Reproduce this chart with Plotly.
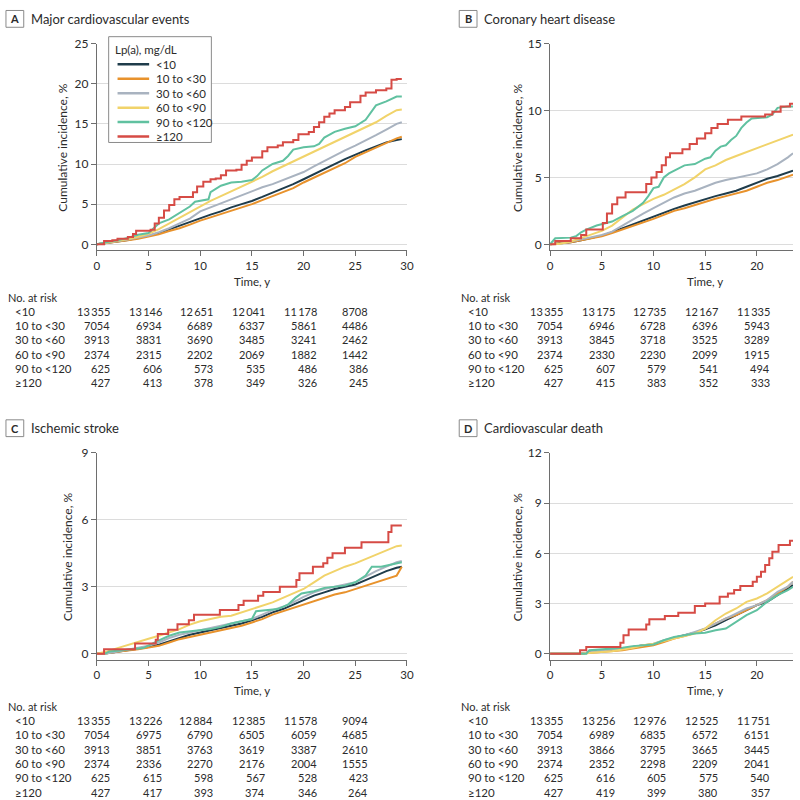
import plotly.graph_objects as go

# ---------------- data ----------------
GROUPS = ["<10", "10 to <30", "30 to <60", "60 to <90", "90 to <120", "≥120"]
COLORS = ["#1f3c4b", "#e8922c", "#a9b3c0", "#f1d36a", "#60c1a0", "#d64b45"]
SHAPES = ["linear", "linear", "linear", "linear", "linear", "hv"]

PANEL_LETTERS = ["A", "B", "C", "D"]
PANEL_TITLES = ["Major cardiovascular events", "Coronary heart disease",
                "Ischemic stroke", "Cardiovascular death"]
Y_TICKS_A = [0, 5, 10, 15, 20, 25]
Y_TICKS_B = [0, 5, 10, 15]
Y_TICKS_C = [0, 3, 6, 9]
Y_TICKS_D = [0, 3, 6, 9, 12]
X_TICKS = [0, 5, 10, 15, 20, 25, 30]
RISK_T_LEFT = [0, 5, 10, 15, 20, 25]
RISK_T_RIGHT = [0, 5, 10, 15, 20]

# Panel A: Major cardiovascular events
A_T = [0, 1, 2, 3, 4, 5, 6, 7, 8, 9, 10, 11, 12, 13, 14, 15, 16, 17, 18, 19, 20,
       21, 22, 23, 24, 25, 26, 27, 28, 29, 29.5]
A_LT10 = [0, 0.15, 0.35, 0.55, 0.8, 1.05, 1.4, 1.85, 2.3, 2.8, 3.3, 3.7, 4.1, 4.6, 5.0, 5.4,
          5.9, 6.4, 6.9, 7.5, 8.1, 8.7, 9.4, 10.0, 10.6, 11.2, 11.7, 12.2, 12.7, 13.0, 13.1]
A_10_30 = [0, 0.15, 0.3, 0.5, 0.7, 0.95, 1.25, 1.65, 2.0, 2.45, 2.95, 3.35, 3.75, 4.2, 4.6, 5.0,
           5.5, 6.0, 6.5, 7.0, 7.7, 8.3, 9.0, 9.5, 10.1, 10.9, 11.5, 12.1, 12.7, 13.2, 13.4]
A_30_60 = [0, 0.2, 0.35, 0.6, 0.85, 1.1, 1.5, 2.0, 2.6, 3.2, 4.1, 4.6, 5.1, 5.6, 6.1, 6.6,
           7.1, 7.5, 8.0, 8.5, 9.0, 9.7, 10.4, 11.1, 11.7, 12.3, 12.9, 13.6, 14.3, 15.0, 15.2]
A_60_90 = [0, 0.2, 0.4, 0.65, 0.95, 1.3, 1.9, 2.6, 3.3, 4.0, 4.8, 5.4, 6.0, 6.6, 7.2, 7.8,
           8.4, 9.1, 9.7, 10.3, 10.9, 11.5, 12.2, 12.8, 13.4, 14.0, 14.6, 15.2, 16.0, 16.7, 16.8]
A_90_120_T = [0, 1, 2, 3, 4, 5, 5.5, 6, 7, 8, 9, 9.5, 10, 10.8, 11, 12, 13, 14, 15, 15.5, 16,
              17, 18, 18.5, 19, 20, 21, 21.5, 22, 23, 24, 25, 26, 27, 28, 29, 29.5]
A_90_120 = [0, 0.3, 0.5, 0.8, 1.2, 1.4, 2.0, 2.6, 3.1, 3.9, 4.7, 5.3, 5.4, 5.6, 6.5, 7.3, 7.7,
            7.8, 8.0, 8.5, 9.2, 10.0, 10.4, 11.0, 11.8, 12.1, 12.2, 12.5, 13.3, 14.0, 14.4,
            14.7, 15.5, 17.3, 17.8, 18.4, 18.4]
A_GE120_T = [0, 0.7, 1.5, 2, 3, 3.5, 3.8, 5.2, 5.6, 6, 6.5, 7, 7.5, 8, 8.9, 9.3, 9.7, 10.3, 11,
             11.5, 12, 12.5, 13.5, 14, 14.5, 15, 16, 16.5, 17.5, 18, 19, 19.5, 20.5, 21, 21.5,
             22, 22.5, 23, 24, 24.5, 25.5, 26, 27, 28, 28.5, 29, 29.5]
A_GE120 = [0, 0.4, 0.5, 0.7, 0.9, 1.3, 1.7, 1.8, 2.6, 3.3, 4.2, 4.9, 5.6, 5.9, 5.9, 6.5, 7.2,
           7.8, 8.1, 8.2, 8.6, 9.2, 9.3, 9.9, 10.4, 10.8, 11.6, 12.1, 12.3, 12.7, 13.0, 13.7,
           14.0, 14.6, 15.2, 15.9, 16.3, 16.7, 17.1, 17.7, 18.5, 18.9, 19.2, 19.4, 20.5, 20.6, 20.6]

# Panel B: Coronary heart disease
B_T = [0, 1, 2, 3, 4, 5, 6, 7, 8, 9, 10, 11, 12, 13, 14, 15, 16, 17, 18, 19, 20, 21, 22, 23, 23.5]
B_LT10 = [0, 0.05, 0.15, 0.3, 0.45, 0.65, 0.9, 1.2, 1.5, 1.8, 2.05, 2.35, 2.65, 2.9, 3.15,
          3.4, 3.6, 3.8, 4.0, 4.3, 4.6, 4.9, 5.1, 5.4, 5.5]
B_10_30 = [0, 0.05, 0.15, 0.3, 0.45, 0.6, 0.85, 1.1, 1.35, 1.6, 1.9, 2.2, 2.5, 2.7, 2.95,
           3.2, 3.4, 3.6, 3.8, 4.0, 4.3, 4.6, 4.8, 5.1, 5.2]
B_30_60 = [0, 0.05, 0.2, 0.35, 0.5, 0.7, 0.95, 1.4, 1.9, 2.3, 2.7, 3.1, 3.5, 3.8, 4.0, 4.3,
           4.6, 4.8, 4.95, 5.1, 5.3, 5.6, 6.0, 6.5, 6.8]
B_60_90 = [0, 0.05, 0.2, 0.45, 0.7, 1.0, 1.4, 2.0, 2.6, 3.0, 3.4, 3.7, 4.1, 4.5, 5.0, 5.6,
           5.9, 6.3, 6.6, 6.9, 7.2, 7.5, 7.8, 8.1, 8.2]
B_90_120_T = [0, 0.5, 2, 2.5, 3, 3.5, 4.5, 5, 5.5, 6, 7, 8, 8.5, 9, 9.5, 10, 10.5, 11, 11.5, 12,
              13, 14, 14.5, 15, 15.5, 16, 16.5, 17, 17.5, 18, 18.5, 19, 19.5, 21, 21.5, 22, 23, 23.5]
B_90_120 = [0, 0.45, 0.5, 0.6, 0.9, 1.1, 1.4, 1.5, 1.6, 1.7, 2.1, 2.5, 2.8, 3.1, 3.6, 4.2,
            4.3, 5.0, 5.3, 5.5, 5.9, 6.0, 6.2, 6.4, 6.5, 7.0, 7.3, 7.4, 7.8, 8.1, 8.7, 9.1,
            9.4, 9.5, 9.7, 10.2, 10.3, 10.3]
B_GE120_T = [0, 0.5, 2, 3, 3.5, 5.1, 5.5, 6, 6.5, 7.3, 9.3, 9.8, 10.3, 10.8, 11.2, 11.6, 12.8,
             13.5, 14.2, 15, 15.6, 16.2, 17.2, 18.5, 20.8, 21.5, 22.3, 23.2, 23.5]
B_GE120 = [0, 0.25, 0.45, 0.7, 1.1, 1.6, 2.3, 3.0, 3.5, 3.9, 4.5, 5.0, 5.4, 5.9, 6.5, 6.8,
           7.1, 7.5, 7.9, 8.3, 8.7, 9.0, 9.3, 9.55, 9.7, 9.9, 10.3, 10.5, 10.5]

# Panel C: Ischemic stroke
C_T = A_T
C_LT10 = [0, 0.02, 0.08, 0.15, 0.22, 0.3, 0.4, 0.55, 0.7, 0.85, 0.95, 1.05, 1.15, 1.25, 1.35,
          1.5, 1.65, 1.85, 2.0, 2.2, 2.4, 2.6, 2.75, 2.9, 3.0, 3.1, 3.3, 3.5, 3.7, 3.85, 3.9]
C_10_30 = [0, 0.02, 0.08, 0.13, 0.2, 0.27, 0.35, 0.5, 0.65, 0.75, 0.85, 0.95, 1.05, 1.15,
           1.25, 1.4, 1.55, 1.75, 1.9, 2.05, 2.2, 2.35, 2.5, 2.65, 2.75, 2.9, 3.05, 3.2, 3.35,
           3.5, 3.9]
C_30_60 = [0, 0.02, 0.1, 0.2, 0.27, 0.35, 0.5, 0.7, 0.85, 0.95, 1.05, 1.15, 1.25, 1.35, 1.45,
           1.55, 1.75, 1.95, 2.1, 2.3, 2.55, 2.75, 2.9, 3.0, 3.1, 3.2, 3.45, 3.7, 3.9, 4.1, 4.15]
C_60_90 = [0, 0.1, 0.25, 0.4, 0.55, 0.67, 0.8, 0.95, 1.1, 1.3, 1.45, 1.55, 1.65, 1.7, 1.85,
           2.0, 2.15, 2.3, 2.5, 2.7, 2.9, 3.2, 3.5, 3.7, 3.9, 4.05, 4.25, 4.45, 4.65, 4.82, 4.85]
C_90_120_T = [0.8, 1.2, 2.5, 3.5, 4.5, 5.8, 6.5, 7, 8, 9, 10, 11, 12, 13, 14, 15, 15.4, 16.5,
              17.5, 18.5, 19.2, 19.8, 21, 22, 23, 24, 25, 26, 26.6, 27.5, 28.5, 29.5]
C_90_120 = [0, 0.1, 0.15, 0.2, 0.25, 0.55, 0.7, 0.8, 0.95, 1.0, 1.05, 1.1, 1.2, 1.35, 1.45,
            1.55, 1.9, 1.95, 2.0, 2.2, 2.5, 2.7, 2.8, 2.95, 3.0, 3.05, 3.2, 3.5, 3.9, 3.9,
            4.0, 4.1]
C_GE120_T = [0, 0.7, 3.7, 5.7, 5.9, 6.9, 7.8, 8.9, 9.4, 11.9, 13.7, 14.2, 15.6, 16.1, 17.7,
             19.3, 19.6, 20.9, 21.9, 22.3, 22.8, 24, 25.6, 28.2, 28.5, 29.5]
C_GE120 = [0, 0.2, 0.45, 0.62, 0.88, 1.07, 1.32, 1.5, 1.74, 1.96, 2.18, 2.37, 2.6, 2.77, 3.0,
           3.3, 3.6, 3.9, 4.05, 4.3, 4.5, 4.75, 5.0, 5.45, 5.75, 5.75]

# Panel D: Cardiovascular death
D_T = [0, 3, 4, 5, 6, 7, 8, 9, 10, 11, 12, 13, 14, 15, 16, 17, 18, 19, 20, 21, 22, 23, 23.5]
D_LT10 = [0, 0, 0.1, 0.2, 0.25, 0.3, 0.4, 0.5, 0.55, 0.75, 0.95, 1.1, 1.25, 1.45, 1.7, 2.0,
          2.3, 2.6, 2.9, 3.1, 3.5, 3.9, 4.1]
D_10_30 = [0, 0, 0.05, 0.1, 0.15, 0.2, 0.3, 0.4, 0.5, 0.7, 0.9, 1.05, 1.25, 1.5, 1.8, 2.1,
           2.3, 2.6, 2.9, 3.2, 3.6, 4.0, 4.3]
D_30_60 = [0, 0, 0.1, 0.2, 0.25, 0.3, 0.4, 0.5, 0.6, 0.8, 0.95, 1.1, 1.3, 1.5, 1.8, 2.1, 2.4,
           2.7, 2.9, 3.2, 3.7, 4.0, 4.3]
D_60_90 = [0, 0, 0.05, 0.1, 0.15, 0.25, 0.35, 0.5, 0.6, 0.75, 0.9, 1.05, 1.2, 1.5, 2.0, 2.4,
           2.7, 3.1, 3.3, 3.6, 4.0, 4.4, 4.6]
D_90_120_T = [0, 3.5, 3.8, 5, 6, 7, 8, 9, 10, 11, 12, 13, 14, 15, 16, 17, 18, 19, 20, 21, 22,
              23, 23.5]
D_90_120 = [0, 0, 0.2, 0.25, 0.3, 0.35, 0.45, 0.5, 0.55, 0.8, 1.0, 1.1, 1.2, 1.25, 1.4, 1.5,
            1.9, 2.3, 2.6, 3.1, 3.5, 3.8, 4.0]
D_GE120_T = [0, 2.9, 3.5, 6.8, 7.1, 7.6, 9.3, 9.6, 11.1, 12.4, 14.0, 15.0, 16.4, 17.2, 17.8,
             18.4, 19.6, 20.0, 20.4, 20.8, 21.2, 21.5, 22.1, 23.2, 23.5]
D_GE120 = [0, 0.2, 0.4, 0.65, 1.1, 1.45, 1.75, 2.05, 2.25, 2.45, 2.85, 3.0, 3.4, 3.6, 3.8,
           4.05, 4.3, 4.6, 4.9, 5.3, 5.7, 6.1, 6.5, 6.75, 6.75]

# Numbers at risk (rows follow GROUPS)
A_RISK = [[13355, 13146, 12651, 12041, 11178, 8708],
          [7054, 6934, 6689, 6337, 5861, 4486],
          [3913, 3831, 3690, 3485, 3241, 2462],
          [2374, 2315, 2202, 2069, 1882, 1442],
          [625, 606, 573, 535, 486, 386],
          [427, 413, 378, 349, 326, 245]]
B_RISK = [[13355, 13175, 12735, 12167, 11335],
          [7054, 6946, 6728, 6396, 5943],
          [3913, 3845, 3718, 3525, 3289],
          [2374, 2330, 2230, 2099, 1915],
          [625, 607, 579, 541, 494],
          [427, 415, 383, 352, 333]]
C_RISK = [[13355, 13226, 12884, 12385, 11578, 9094],
          [7054, 6975, 6790, 6505, 6059, 4685],
          [3913, 3851, 3763, 3619, 3387, 2610],
          [2374, 2336, 2270, 2176, 2004, 1555],
          [625, 615, 598, 567, 528, 423],
          [427, 417, 393, 374, 346, 264]]
D_RISK = [[13355, 13256, 12976, 12525, 11751],
          [7054, 6989, 6835, 6572, 6151],
          [3913, 3866, 3795, 3665, 3445],
          [2374, 2352, 2298, 2209, 2041],
          [625, 616, 605, 575, 540],
          [427, 419, 399, 380, 357]]

# ---------------- layout helpers ----------------
W, H = 800, 800
FONT = "Lato, 'Open Sans', sans-serif"
TXT = "#2b2b2b"
AX = "#6e6e6e"
PXU = 10.47          # pixels per year
PLOT_H_TOP = 203     # px from top tick to zero
PLOT_PAD = 6         # px from zero to axis line


def px(x):
    return x / W


def py(y):
    return 1 - y / H


panels = [
    dict(series=[(A_T, A_LT10), (A_T, A_10_30), (A_T, A_30_60), (A_T, A_60_90),
                 (A_90_120_T, A_90_120), (A_GE120_T, A_GE120)],
         risk=A_RISK, rt=RISK_T_LEFT, yt=Y_TICKS_A, x0=95, x1=95 + 30 * PXU, top=36,
         ytitle_x=60, xmax=30),
    dict(series=[(B_T, B_LT10), (B_T, B_10_30), (B_T, B_30_60), (B_T, B_60_90),
                 (B_90_120_T, B_90_120), (B_GE120_T, B_GE120)],
         risk=B_RISK, rt=RISK_T_RIGHT, yt=Y_TICKS_B, x0=554, x1=800, top=36,
         ytitle_x=521, xmax=(800 - 554) / PXU),
    dict(series=[(C_T, C_LT10), (C_T, C_10_30), (C_T, C_30_60), (C_T, C_60_90),
                 (C_90_120_T, C_90_120), (C_GE120_T, C_GE120)],
         risk=C_RISK, rt=RISK_T_LEFT, yt=Y_TICKS_C, x0=95, x1=95 + 30 * PXU, top=450,
         ytitle_x=66, xmax=30),
    dict(series=[(D_T, D_LT10), (D_T, D_10_30), (D_T, D_30_60), (D_T, D_60_90),
                 (D_90_120_T, D_90_120), (D_GE120_T, D_GE120)],
         risk=D_RISK, rt=RISK_T_RIGHT, yt=Y_TICKS_D, x0=554, x1=800, top=450,
         ytitle_x=521, xmax=(800 - 554) / PXU),
]


def fmt(n):
    s = f"{n:d}"
    if n >= 10000:
        s = s[:-3] + "\u2009" + s[-3:]
    return s


fig = go.Figure()
shapes = []
annotations = []
layout_axes = {}

for i, p in enumerate(panels):
    k = "" if i == 0 else str(i + 1)
    xa, ya = "x" + k, "y" + k
    ymax = p["yt"][-1]
    ymin = -ymax * PLOT_PAD / PLOT_H_TOP
    bottom = p["top"] + PLOT_H_TOP + PLOT_PAD
    for (tt, vv), name, col, shp in zip(p["series"], GROUPS, COLORS, SHAPES):
        fig.add_trace(go.Scatter(x=tt, y=vv, mode="lines", name=name, showlegend=False,
                                 line=dict(color=col, width=2, shape=shp),
                                 xaxis=xa, yaxis=ya, hoverinfo="skip"))
    layout_axes["xaxis" + k] = dict(
        domain=[px(p["x0"]), px(p["x1"])], range=[0, p["xmax"]], anchor=ya,
        tickvals=X_TICKS, showgrid=False, zeroline=False, showline=True,
        linecolor=AX, linewidth=1, ticks="outside", ticklen=5, tickcolor=AX,
        tickfont=dict(family=FONT, size=11.5, color=TXT), fixedrange=True)
    layout_axes["yaxis" + k] = dict(
        domain=[py(bottom), py(p["top"])], range=[ymin, ymax], anchor=xa,
        tickvals=p["yt"], showgrid=True, gridcolor="#dcdcdc", gridwidth=1,
        zeroline=False, showline=True, linecolor=AX, linewidth=1, ticks="outside",
        ticklen=5, tickcolor=AX, tickfont=dict(family=FONT, size=12, color=TXT),
        fixedrange=True)

    # panel title with boxed letter
    ty = p["top"] - 25
    lx = p["x0"] - 92
    shapes.append(dict(type="rect", xref="paper", yref="paper",
                       x0=px(lx), x1=px(lx + 18), y0=py(ty - 8.5), y1=py(ty + 8.5),
                       line=dict(color="#8a8a8a", width=1), fillcolor="white"))
    annotations.append(dict(text="<b>%s</b>" % PANEL_LETTERS[i], xref="paper", yref="paper",
                            x=px(lx + 9), y=py(ty), xanchor="center", yanchor="middle",
                            showarrow=False, font=dict(family=FONT, size=11, color=TXT)))
    annotations.append(dict(text=PANEL_TITLES[i], xref="paper", yref="paper",
                            x=px(lx + 23), y=py(ty), xanchor="left", yanchor="middle",
                            showarrow=False, font=dict(family=FONT, size=13, color=TXT)))
    # y title
    annotations.append(dict(text="Cumulative incidence, %", xref="paper", yref="paper",
                            x=px(p["ytitle_x"]), y=py(p["top"] + 105), textangle=-90,
                            xanchor="center", yanchor="middle", showarrow=False,
                            font=dict(family=FONT, size=12, color=TXT)))
    # x title (centered on the full 0-30 axis)
    annotations.append(dict(text="Time, y", xref="paper", yref="paper",
                            x=px(p["x0"] + 15 * PXU), y=py(bottom + 31.5),
                            xanchor="center", yanchor="middle", showarrow=False,
                            font=dict(family=FONT, size=11.5, color=TXT)))
    # risk table
    annotations.append(dict(text="No. at risk", xref="paper", yref="paper",
                            x=px(p["x0"] - 92), y=py(bottom + 47.5), xanchor="left",
                            yanchor="middle", showarrow=False,
                            font=dict(family=FONT, size=11, color=TXT)))
    for r, (g, row) in enumerate(zip(GROUPS, p["risk"])):
        yy = py(bottom + 61.5 + r * 14.5)
        annotations.append(dict(text=g, xref="paper", yref="paper", x=px(p["x0"] - 85),
                                y=yy, xanchor="left", yanchor="middle", showarrow=False,
                                font=dict(family=FONT, size=11.5, color=TXT)))
        for t, n in zip(p["rt"], row):
            annotations.append(dict(text=fmt(n), xref=xa, yref="paper", x=t, xshift=15,
                                    y=yy, xanchor="right", yanchor="middle",
                                    showarrow=False,
                                    font=dict(family=FONT, size=11, color=TXT)))

# manual legend in panel A
LX0, LY0, LX1, LY1 = 107, 29, 211, 136
shapes.append(dict(type="rect", xref="paper", yref="paper", x0=px(LX0), x1=px(LX1),
                   y0=py(LY1), y1=py(LY0), line=dict(color="#8a8a8a", width=1),
                   fillcolor="white", layer="above"))
annotations.append(dict(text="Lp(a), mg/dL", xref="paper", yref="paper", x=px(111),
                        y=py(42), xanchor="left", yanchor="middle", showarrow=False,
                        font=dict(family=FONT, size=11.5, color=TXT)))
for r, (g, col) in enumerate(zip(GROUPS, COLORS)):
    yy = 57 + r * 14.6
    shapes.append(dict(type="line", xref="paper", yref="paper", x0=px(116), x1=px(148),
                       y0=py(yy), y1=py(yy), line=dict(color=col, width=2.5),
                       layer="above"))
    annotations.append(dict(text=g, xref="paper", yref="paper", x=px(153), y=py(yy),
                            xanchor="left", yanchor="middle", showarrow=False,
                            font=dict(family=FONT, size=11.5, color=TXT)))

fig.update_layout(width=W, height=H, autosize=False,
                  margin=dict(l=0, r=0, t=0, b=0),
                  paper_bgcolor="white", plot_bgcolor="white",
                  shapes=shapes, annotations=annotations, showlegend=False,
                  font=dict(family=FONT, size=11, color=TXT), **layout_axes)

fig.write_html("out.html", config={"displayModeBar": False},
               post_script="document.body.style.margin='0';"
                           "document.body.style.padding='0';"
                           "document.body.style.overflow='hidden';"
                           "document.documentElement.style.overflow='hidden';")
